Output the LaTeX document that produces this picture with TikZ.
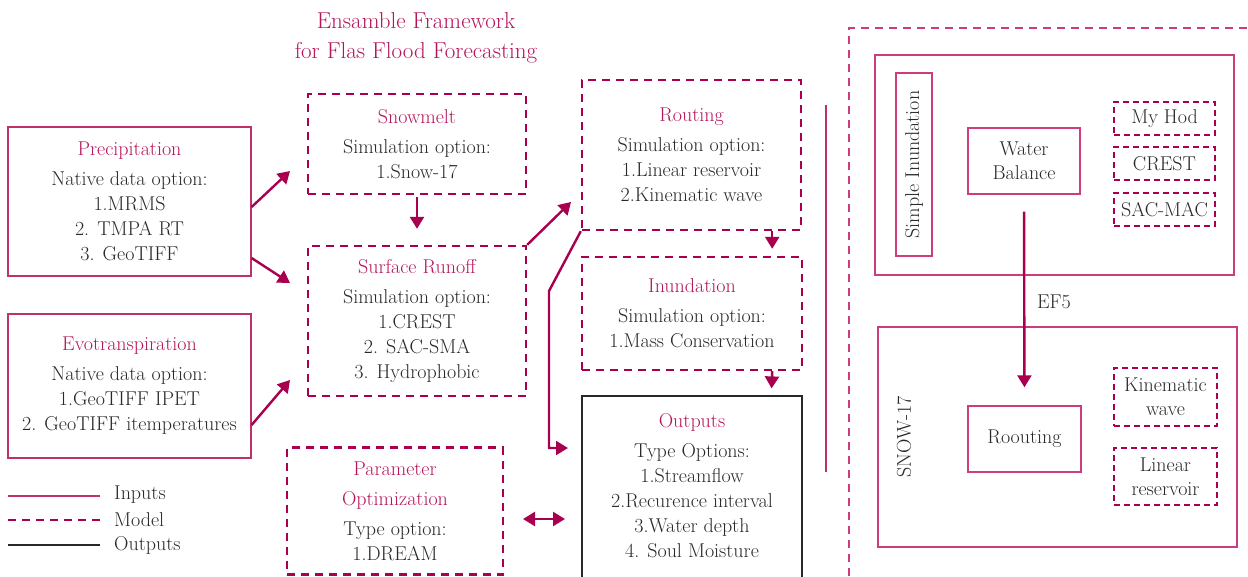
\documentclass[tikz,border=0pt]{standalone}
\usepackage{fontspec}
\usetikzlibrary{arrows.meta}
\definecolor{acc}{RGB}{180,20,90}
\definecolor{dk}{RGB}{168,0,78}
\definecolor{inl}{RGB}{192,48,106}
\definecolor{pl}{RGB}{205,60,125}
\definecolor{txt}{RGB}{40,40,40}
\begin{document}
\begin{tikzpicture}[x=1pt,y=-1pt,
  every node/.style={font=\rmfamily\fontsize{20}{25}\selectfont, text=txt, inner sep=0pt, align=center},
  inbox/.style={draw=inl, line width=1.2pt, rectangle},
  modbox/.style={draw=dk, line width=2.4pt, dash pattern=on 8pt off 6pt, rectangle},
  outbox/.style={draw=txt, line width=1.2pt, rectangle},
  pbox/.style={draw=pl, line width=1.4pt, rectangle},
  pdash/.style={draw=dk, line width=1.2pt, dash pattern=on 6pt off 4pt, rectangle},
  arr/.style={draw=dk, line width=2.4pt, -{Triangle[length=12pt,width=14pt]}},
  darr/.style={draw=dk, line width=2.4pt, {Triangle[length=12pt,width=14pt]}-{Triangle[length=12pt,width=14pt]}},
  ttl/.style={text=acc}
]
\useasboundingbox (0,0) rectangle (1248,576);

% title
\node[ttl, font=\rmfamily\fontsize{23}{30}\selectfont] (title) at (416,38) {Ensamble Framework\\for Flas Flood Forecasting};

% inputs
\node[inbox, minimum width=243pt, minimum height=149pt] (precip) at (129.5,201.5)
  {\textcolor{acc}{Precipitation}\\[5pt]Native data option:\\1.MRMS\\2. TMPA RT\\3. GeoTIFF};
\node[inbox, minimum width=243pt, minimum height=144pt] (evo) at (129.5,386)
  {\textcolor{acc}{Evotranspiration}\\[5pt]Native data option:\\1.GeoTIFF IPET\\2. GeoTIFF itemperatures};

% models
\node[modbox, minimum width=218pt, minimum height=100pt] (snow) at (417,144)
  {\textcolor{acc}{Snowmelt}\\[5pt]Simulation option:\\1.Snow-17};
\node[modbox, minimum width=218pt, minimum height=150pt] (surf) at (417,321)
  {\textcolor{acc}{Surface Runoff}\\[5pt]Simulation option:\\1.CREST\\2. SAC-SMA\\3. Hydrophobic};
\node[modbox, minimum width=216pt, minimum height=127pt] (param) at (395,511)
  {\textcolor{acc}{Parameter}\\[5pt]\textcolor{acc}{Optimization}\\[5pt]Type option:\\1.DREAM};
\node[modbox, minimum width=219pt, minimum height=150pt] (routing) at (691.5,155)
  {\textcolor{acc}{Routing}\\[5pt]Simulation option:\\1.Linear reservoir\\2.Kinematic wave};
\node[modbox, minimum width=220pt, minimum height=113pt] (inund) at (692,313.5)
  {\textcolor{acc}{Inundation}\\[5pt]Simulation option:\\1.Mass Conservation};
\node[outbox, minimum width=220pt, minimum height=186pt,
  label={[yshift=3pt]center:\textcolor{acc}{Outputs}\\[5pt]Type Options:\\1.Streamflow\\2.Recurence interval\\3.Water depth\\4. Soul Moisture}]
  (outputs) at (692,489) {};

% connector coordinates
\coordinate (a1) at (290,171);
\coordinate (a2) at (290,283);
\coordinate (a3) at (290,380);
\coordinate (a4) at (571,202);
\coordinate (b1) at (549,291);
\coordinate (b2) at (549,448);
\coordinate (b3) at (568,448);
\coordinate (c1) at (523,519);
\coordinate (c2) at (565,519);

\draw[arr] ([yshift=-5.5pt]precip.east) -- (a1);
\draw[arr] ([yshift=-56.5pt]precip.east) -- (a2);
\draw[arr] ([yshift=-39pt]evo.east) -- (a3);
\draw[arr, shorten <=2pt, shorten >=16pt] (snow.south) -- (surf.north);
\draw[arr] (surf.north east) -- (a4);
\draw[arr] (routing.south west) -- (b1) -- (b2) -- (b3);
\draw[arr] ([xshift=-30pt]routing.south east) -- ([xshift=-31pt,yshift=7pt]inund.north east);
\draw[arr] ([xshift=-31pt]inund.south east) -- ([xshift=-31pt,yshift=7pt]outputs.north east);
\draw[darr] (c1) -- (c2);

% separator
\coordinate (v1) at (826,105);
\coordinate (v2) at (826,472);
\draw[inl, line width=1.5pt] (v1) -- (v2);

% legend
\coordinate (l1a) at (8,496); \coordinate (l1b) at (100,496);
\coordinate (l2a) at (8,520); \coordinate (l2b) at (100,520);
\coordinate (l3a) at (8,545); \coordinate (l3b) at (100,545);
\draw[inl, line width=1.2pt] (l1a) -- (l1b);
\draw[dk, line width=2.4pt, dash pattern=on 8pt off 6pt] (l2a) -- (l2b);
\draw[txt, line width=1.2pt] (l3a) -- (l3b);
\node[anchor=west] (lg1) at (114,495) {Inputs};
\node[anchor=west] (lg2) at (114,520) {Model};
\node[anchor=west] (lg3) at (114,545) {Outputs};

% right panel
\draw[pl, line width=1.4pt, dash pattern=on 8pt off 6pt] (849,576) -- (849,28) -- (1248,28);
\node[pbox, minimum width=359pt, minimum height=220pt] (box1) at (1054.5,165) {};
\node[pbox, rotate=90, minimum width=183pt, minimum height=36pt] (simple) at (914,164.5) {Simple Inundation};
\node[pbox, minimum width=112pt, minimum height=66pt, font=\rmfamily\fontsize{20}{24}\selectfont] (wb) at (1024,161) {Water\\Balance};
\node[pdash, minimum width=101pt, minimum height=33pt] (myhod) at (1164.5,118.5) {My Hod};
\node[pdash, minimum width=101pt, minimum height=33pt] (crest) at (1164.5,163.5) {CREST};
\node[pdash, minimum width=101pt, minimum height=33pt] (sacmac) at (1164.5,209.5) {SAC-MAC};

\node[pbox, minimum width=359pt, minimum height=220pt] (box2) at (1057.5,437) {};
\node[rotate=90] (snow17) at (904,437) {SNOW-17};
\node[pbox, minimum width=113pt, minimum height=66pt] (rout) at (1024.5,439) {Roouting};
\node[pdash, minimum width=103pt, minimum height=58pt, font=\rmfamily\fontsize{20}{24}\selectfont] (kin) at (1165.5,397) {Kinematic\\wave};
\node[pdash, minimum width=103pt, minimum height=57pt, font=\rmfamily\fontsize{20}{24}\selectfont] (lin) at (1165.5,476.5) {Linear\\reservoir};

\draw[arr, shorten <=17pt, shorten >=18pt] (wb.south) -- (rout.north);
\node (ef5) at (1054,302) {EF5};
\end{tikzpicture}
\end{document}
